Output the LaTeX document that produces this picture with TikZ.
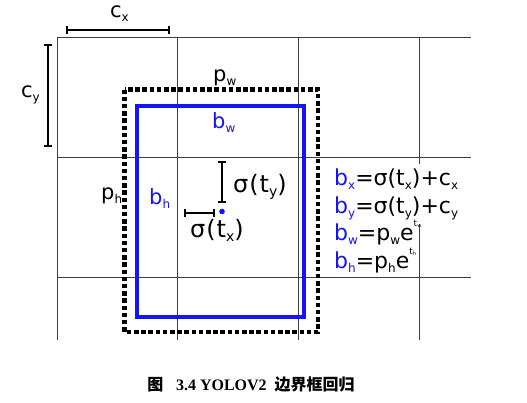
\documentclass[tikz,border=0pt]{standalone}
\usepackage{fontspec}
\setmainfont{DejaVu Sans}
\newfontfamily\sigfont{DejaVu Sans}[LetterSpace=4]
\newfontfamily\capfont{Liberation Serif}
\newfontfamily\cjk{Noto Sans CJK SC}
\usetikzlibrary{arrows.meta}
\usetikzlibrary{positioning}

\definecolor{boxblue}{RGB}{20,20,245}
\newcommand{\sbs}[2][12]{\raisebox{-0.35ex}{\fontsize{#1}{#1}\selectfont #2}}
\newcommand{\expo}[1]{\raisebox{1.15ex}{\fontsize{9}{9}\selectfont t\raisebox{-0.3ex}{\fontsize{5}{5}\selectfont #1}}}

\tikzset{
  gridline/.style={black!75, line width=0.9pt},
  dimbar/.style={line width=2.6pt, {Bar[width=8pt,line width=1.6pt]}-{Bar[width=8pt,line width=1.6pt]}},
  lab/.style={font=\fontsize{21}{21}\selectfont, inner sep=0pt, anchor=base west},
  siglab/.style={lab, font=\sigfont\fontsize{24}{24}\selectfont},
  formula/.style={lab, font=\fontsize{22}{22}\selectfont},
  hidegrid/.style={fill=white, inner ysep=4pt},
  anchorbox/.style={line width=4.5pt, dash pattern=on 4.5pt off 2.7pt},
  predbox/.style={boxblue, line width=4.5pt},
}

\begin{document}
\begin{tikzpicture}[x=1pt,y=-1pt]
  \useasboundingbox (0,0) rectangle (527,402);

  % grid cells
  \foreach \y in {37,157,277}{
    \draw[gridline] (57,\y) -- (471,\y);
  }
  \foreach \x in {57,177,298,419}{
    \draw[gridline] (\x,37) -- (\x,340);
  }

  % cell offsets
  \coordinate (cxa) at (66,30);
  \coordinate (cxb) at (170,30);
  \coordinate (cya) at (48,44);
  \coordinate (cyb) at (48,147);
  \draw[dimbar] (cxa) -- (cxb);
  \draw[dimbar] (cya) -- (cyb);
  \node[lab] (cx) at (110,17) {c\sbs{x}};
  \node[lab] (cy) at (21,97) {c\sbs{y}};

  % prior box and predicted box
  \coordinate (pnw) at (124.5,89.5);
  \coordinate (pse) at (318,332);
  \coordinate (bnw) at (137,106);
  \coordinate (bse) at (304,317);
  \draw[anchorbox] (pnw) rectangle (pse);
  \draw[predbox] (bnw) rectangle (bse);
  \node[lab] (pw) at (213,81) {p\sbs{w}};
  \node[lab] (ph) at (101,199) {p\sbs{h}};
  \node[lab, boxblue] (bw) at (212,128) {b\sbs{w}};
  \node[lab, boxblue] (bh) at (149,204) {b\sbs{h}};

  % centre offsets
  \coordinate (ctr) at (222,211.5);
  \coordinate (tya) at (222,161);
  \coordinate (tyb) at (222,203);
  \coordinate (txa) at (184,213);
  \coordinate (txb) at (215,213);
  \draw[dimbar] (tya) -- (tyb);
  \draw[dimbar] (txa) -- (txb);
  \fill[boxblue] (ctr) circle (2.8pt);
  \node[siglab] (sty) at (233,192) {σ(t\sbs[14]{y})};
  \node[siglab] (stx) at (190,237) {σ(t\sbs[14]{x})};

  % equations
  \node[formula, hidegrid] (eqx) at (334,185) {\textcolor{boxblue}{b\sbs{x}}=σ(t\sbs{x})+c\sbs{x}};
  \node[formula, hidegrid] (eqy) at (334,213) {\textcolor{boxblue}{b\sbs{y}}=σ(t\sbs{y})+c\sbs{y}};
  \node[formula] (eqw) at (334,240) {\textcolor{boxblue}{b\sbs{w}}=p\sbs{w}e\expo{w}};
  \node[formula] (eqh) at (334,268) {\textcolor{boxblue}{b\sbs{h}}=p\sbs{h}e\expo{h}};

  % caption
  \node[font=\fontsize{16}{16}\selectfont\bfseries, inner sep=0pt] (cap) at (251,385)
    {{\cjk\bfseries 图}\hspace{0.8em}{\capfont\bfseries 3.4 YOLOV2}\hspace{0.5em}{\cjk\bfseries 边界框回归}};
\end{tikzpicture}
\end{document}
